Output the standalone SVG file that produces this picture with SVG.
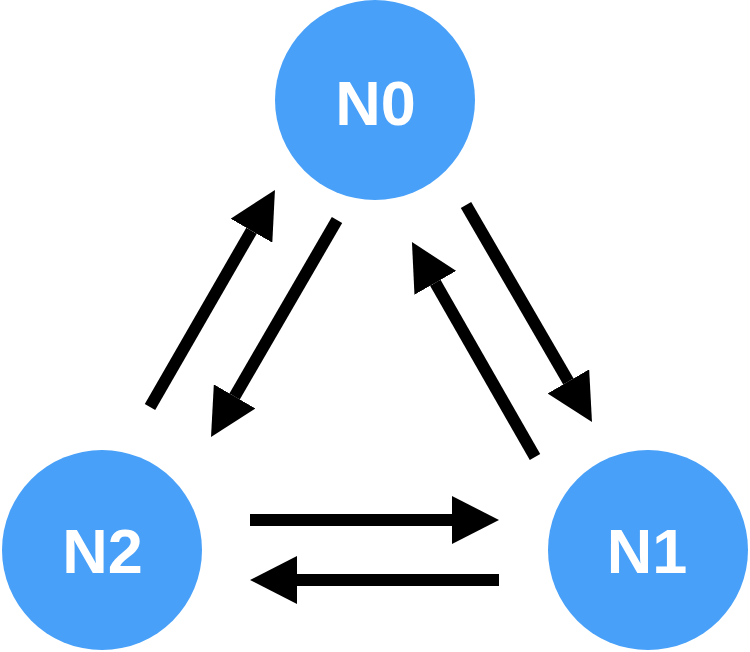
<svg xmlns="http://www.w3.org/2000/svg" width="750" height="652" viewBox="0 0 750 652">
<style>
.node{fill:#48a0f8}
.lbl{fill:#ffffff;font-family:"Liberation Sans",Arial,sans-serif;font-weight:bold;font-size:63px;text-anchor:middle}
.edge{stroke:#000;stroke-width:12;fill:none;marker-end:url(#ah)}
</style>
<defs>
<marker id="ah" viewBox="0 0 47 48" markerWidth="47" markerHeight="48" refX="0" refY="24" orient="auto" markerUnits="userSpaceOnUse">
<path d="M0,0 L47,24 L0,48 z" fill="#000"/>
</marker>
</defs>
<rect width="750" height="652" fill="#fff"/>
<g id="edges">
<line class="edge" x1="250" y1="520" x2="452" y2="520"/>
<line class="edge" x1="499" y1="580" x2="297" y2="580"/>
<line class="edge" x1="150" y1="407" x2="251.5" y2="230.7"/>
<line class="edge" x1="337" y1="220" x2="234.6" y2="396.4"/>
<line class="edge" x1="466" y1="205" x2="568.4" y2="381.4"/>
<line class="edge" x1="535" y1="457" x2="435.3" y2="282.8"/>
</g>
<g id="N0">
<circle class="node" cx="375" cy="100" r="100"/>
<text class="lbl" x="375.5" y="125">N0</text>
</g>
<g id="N1">
<circle class="node" cx="648" cy="550" r="100"/>
<text class="lbl" x="647" y="573">N1</text>
</g>
<g id="N2">
<circle class="node" cx="102" cy="550" r="100"/>
<text class="lbl" x="102.5" y="573">N2</text>
</g>
</svg>
